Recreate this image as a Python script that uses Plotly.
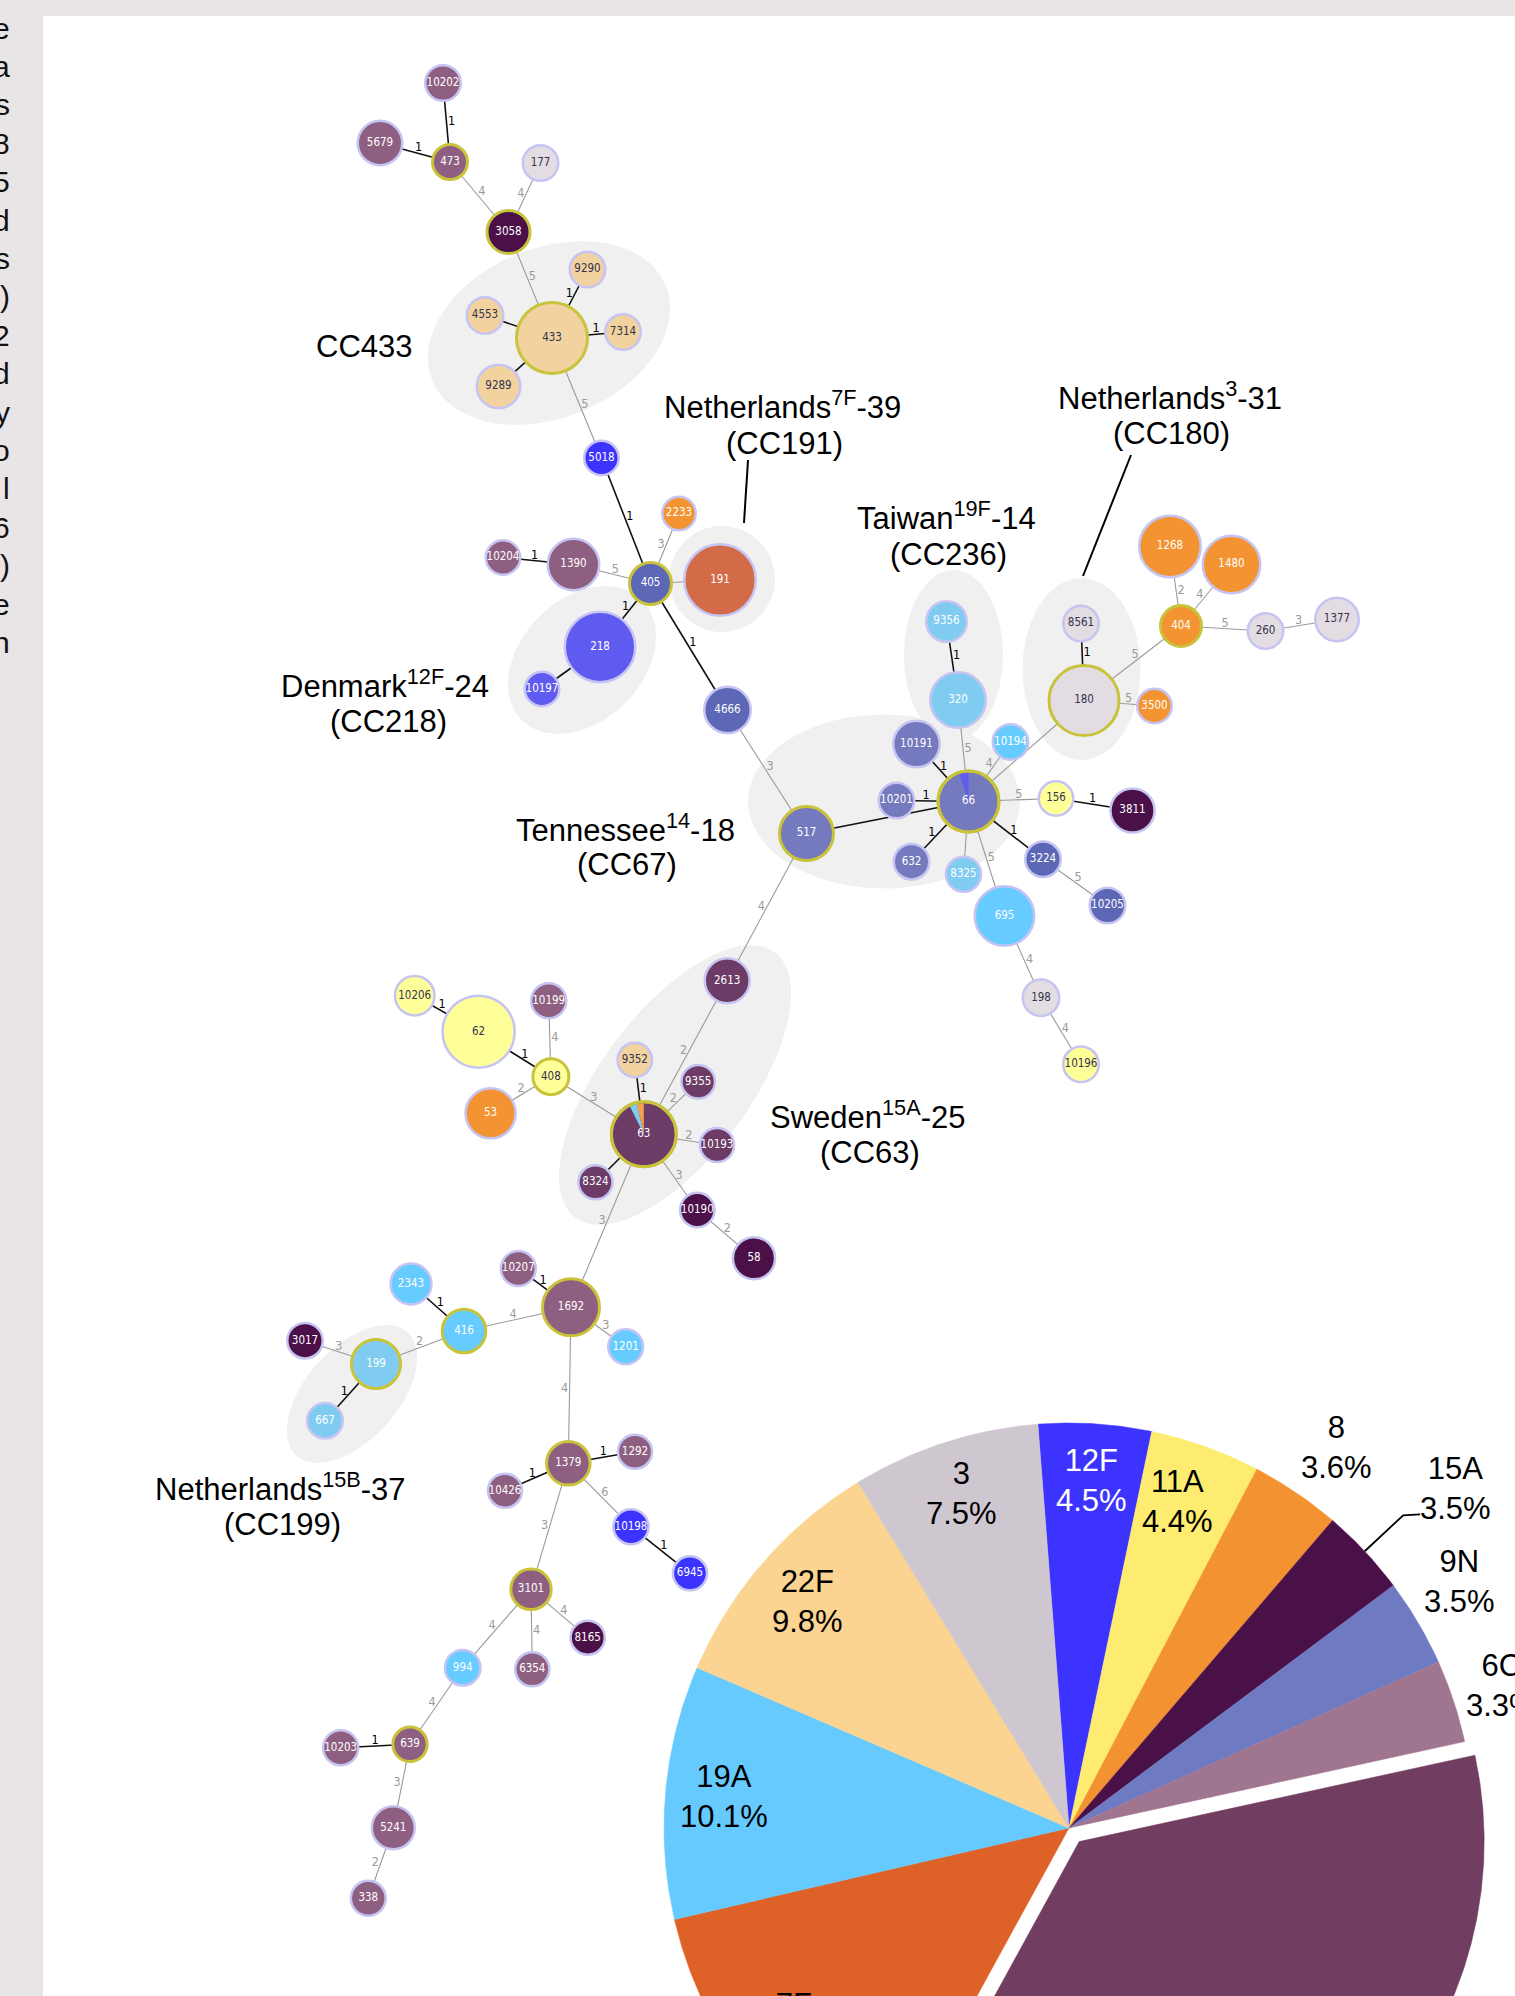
import numpy as np
import plotly.graph_objects as go

W, H = 1515, 1996

# ---------------- network: sequence types (nodes) ----------------
st_ids = ["10202", "5679", "473", "177", "3058", "9290", "4553", "433", "7314", "9289",
          "5018", "2233", "10204", "1390", "405", "191", "218", "10197", "4666", "517",
          "9356", "320", "8561", "180", "1268", "1480", "404", "260", "1377", "3500",
          "10191", "10194", "66", "10201", "156", "3811", "632", "8325", "3224", "10205",
          "695", "198", "10196",
          "2613", "10206", "62", "10199", "9352", "408", "9355", "53", "63", "10193", "8324",
          "10190", "58",
          "10207", "2343", "1692", "416", "3017", "199", "1201", "667",
          "1379", "1292", "10426", "10198", "6945", "3101", "8165", "994", "6354",
          "639", "10203", "5241", "338"]
st_x = [443, 380, 450, 540.5, 508.5, 587.5, 485, 552, 623, 498.5,
        601.5, 679, 503, 573.5, 650.5, 720, 600, 542, 727.5, 806.5,
        946.5, 958, 1081, 1084, 1170, 1231.5, 1181, 1265.5, 1337, 1154.5,
        916.5, 1010.5, 968.5, 896.5, 1056, 1132.5, 911.5, 963.5, 1043, 1107.5,
        1004.5, 1041, 1081,
        727.2, 414.7, 478.6, 548.7, 634.8, 550.9, 698.2, 490.6, 643.8, 717, 595.5,
        697.3, 754,
        518.3, 411, 571, 464, 305, 376, 625.7, 325,
        568.3, 635, 505, 631, 690, 531, 587.7, 462.7, 532.3,
        410, 340.7, 393.3, 368.3]
st_y = [83, 143, 162, 163, 232, 269.5, 315.5, 338, 332, 386.5,
        458, 513.5, 557.5, 564.5, 583.5, 580, 647, 689, 710, 833.5,
        621.5, 700, 623.5, 700.5, 546.5, 564.5, 626, 631, 619.5, 706,
        744, 742, 801.5, 800.5, 798.5, 810.5, 861.7, 874.3, 859.3, 905.5,
        916, 997.8, 1064.3,
        980.7, 995.7, 1031.7, 1000.7, 1060, 1076.7, 1081.7, 1113.3, 1134.3, 1145, 1182.3,
        1210, 1258.3,
        1268.5, 1284, 1307.3, 1331, 1340.7, 1364, 1346.7, 1420.7,
        1463.3, 1451.7, 1490.7, 1526.7, 1573.3, 1589.3, 1637.7, 1667.7, 1669.3,
        1744.3, 1747.7, 1827.7, 1898.3]
st_r = [19, 23.5, 19, 19, 23, 19, 19.5, 37, 19, 23,
        18.5, 18, 18.5, 27, 22.5, 37, 36.5, 18.5, 24.5, 28.5,
        21.5, 29, 19, 36.5, 32, 30, 22, 19, 23, 18.5,
        24.5, 19, 32, 19, 18.5, 23.3, 19, 18.8, 19, 19,
        31, 19.5, 19,
        23.7, 21, 37.3, 18.8, 18.5, 19.5, 18, 26.3, 34, 18.3, 18.3,
        18.5, 22.3,
        18.7, 21.7, 30, 23.3, 19, 26, 18.7, 19,
        23.3, 18.3, 18.3, 18.8, 18.3, 21.7, 18.3, 19, 18.3,
        18.7, 18.8, 22.7, 18.7]
st_col = ["mauve", "mauve", "mauve", "pale", "dark", "peach", "peach", "peach", "peach", "peach",
          "blue", "orange", "mauve", "mauve", "slate", "rust", "violet", "violet", "slate", "periw",
          "skyL", "skyL", "pale", "pale", "orange", "orange", "orange", "pale", "pale", "orange",
          "periw", "sky", "periw", "periw", "lemon", "dark", "periw", "skyL", "slate", "slate",
          "sky", "pale", "lemon",
          "plum", "lemon", "lemon", "mauve", "peach", "lemon", "plum", "orange", "plum", "plum", "plum",
          "dark", "dark",
          "mauve", "sky", "mauve", "sky", "dark", "skyL", "sky", "skyL",
          "mauve", "mauve", "mauve", "blue", "blue", "mauve", "dark", "sky", "mauve",
          "mauve", "mauve", "mauve", "mauve"]
founders = ["473", "3058", "433", "405", "517", "180", "404", "66", "408", "63",
            "1692", "416", "199", "1379", "3101", "639"]

# edges: (from, to, allelic distance, label visible)
edges = [("10202", "473", 1, True), ("5679", "473", 1, True), ("473", "3058", 4, True),
         ("177", "3058", 4, True), ("3058", "433", 5, True), ("433", "9290", 1, True),
         ("4553", "433", 1, False), ("433", "7314", 1, True), ("9289", "433", 1, False),
         ("433", "5018", 5, True), ("5018", "405", 1, True), ("405", "2233", 3, True),
         ("405", "191", 2, False), ("1390", "405", 5, True), ("10204", "1390", 1, True),
         ("405", "218", 1, True), ("10197", "218", 1, False), ("405", "4666", 1, True),
         ("4666", "517", 3, True), ("517", "66", 1, False), ("10201", "66", 1, True),
         ("10191", "66", 1, True), ("66", "320", 5, True), ("320", "9356", 1, True),
         ("66", "10194", 4, True), ("66", "180", 4, True), ("180", "8561", 1, True),
         ("180", "404", 5, True), ("180", "3500", 5, True), ("404", "1268", 2, True),
         ("404", "1480", 4, True), ("404", "260", 5, True), ("260", "1377", 3, True),
         ("66", "156", 5, True), ("156", "3811", 1, True), ("66", "3224", 1, True),
         ("3224", "10205", 5, True), ("66", "632", 1, True), ("66", "8325", 2, False),
         ("66", "695", 5, True), ("695", "198", 4, True), ("198", "10196", 4, True),
         ("517", "2613", 4, True), ("2613", "63", 2, True), ("63", "9352", 1, True),
         ("63", "9355", 2, True), ("63", "10193", 2, True), ("63", "8324", 1, False),
         ("63", "10190", 3, True), ("10190", "58", 2, True), ("63", "408", 3, True),
         ("408", "62", 1, True), ("62", "10206", 1, True), ("408", "10199", 4, True),
         ("408", "53", 2, True), ("63", "1692", 3, True), ("1692", "10207", 1, True),
         ("1692", "1201", 3, True), ("1692", "416", 4, True), ("416", "2343", 1, True),
         ("416", "199", 2, True), ("199", "3017", 3, True), ("199", "667", 1, True),
         ("1692", "1379", 4, True), ("1379", "1292", 1, True), ("1379", "10426", 1, True),
         ("1379", "10198", 6, True), ("10198", "6945", 1, True), ("1379", "3101", 3, True),
         ("3101", "8165", 4, True), ("3101", "6354", 4, True), ("3101", "994", 4, True),
         ("994", "639", 4, True), ("639", "10203", 1, True), ("639", "5241", 3, True),
         ("5241", "338", 2, True)]

# mixed-serotype nodes: (colour key, start deg, end deg) clockwise from 12 o'clock
node_wedges = {"66": [("violet", -19, 0)],
               "63": [("skyL", -27, -13), ("amber", -13, 0)]}

# clonal complex halos: cx, cy, semi-axis a, semi-axis b, tilt (deg)
halo_cx = [549, 722, 582, 953.5, 1081.5, 884, 675, 352]
halo_cy = [333, 579, 660, 655, 669, 801.5, 1085, 1394]
halo_a = [126, 53, 85, 49.5, 59, 136, 166, 83]
halo_b = [85, 53, 61, 85, 91, 87, 74, 46]
halo_t = [22, 0, 45, 0, 0, 0, 53, 48]

# clone labels
clone_text = ["CC433",
              "Netherlands<sup>7F</sup>-39", "(CC191)",
              "Taiwan<sup>19F</sup>-14", "(CC236)",
              "Netherlands<sup>3</sup>-31", "(CC180)",
              "Denmark<sup>12F</sup>-24", "(CC218)",
              "Tennessee<sup>14</sup>-18", "(CC67)",
              "Sweden<sup>15A</sup>-25", "(CC63)",
              "Netherlands<sup>15B</sup>-37", "(CC199)"]
clone_x = [364, 782, 784, 946, 948, 1170, 1171, 384.5, 388, 625, 626.5, 867, 869.5, 280, 282.5]
clone_y = [346, 405, 443, 516, 554, 396, 433, 684, 721, 828, 864.5, 1115, 1152, 1487, 1524]

# ---------------- pie: serotype distribution ----------------
pie_sero = ["12F", "11A", "8", "15A", "9N", "6C", "Other", "7F", "19A", "22F", "3"]
pie_pct = [4.5, 4.4, 3.6, 3.5, 3.5, 3.3, 36.4, 13.4, 10.1, 9.8, 7.5]
pie_colors = ["#3C34FE", "#FEEC70", "#F29230", "#4A1048", "#6E7AC2", "#A07590",
              "#713D60", "#DE6128", "#66CAFF", "#FAD490", "#CFC7D0"]
pie_label_r = [0.86, 0.85, 1.15, 1.27, 1.14, 1.125, None, 0.836, 0.855, 0.855, 0.867]
pie_label_dang = [0, -1.3, 1.0, 1.8, -1.7, 0, 0, 1.5, 0, 0, 0]
pie_text_col = ["white", "black", "black", "black", "black", "black", "black",
                "black", "black", "black", "black"]

# fragment of surrounding page text (left margin)
margin_chars = ["e", "a", "s", "8", "5", "d", "s", ")", "2", "d", "y", "o", "l", "6", ")", "e", "h"]

# ---------------- styles ----------------
palette = {"mauve": "#8E5F80", "dark": "#4B1048", "peach": "#F2D29E", "pale": "#E3DCE2",
           "blue": "#3D33FF", "orange": "#F39331", "slate": "#5C67B5", "rust": "#D46B48",
           "violet": "#5F5BF0", "periw": "#7579BD", "skyL": "#80CCF1", "sky": "#66CBFF",
           "lemon": "#FFFF9A", "plum": "#6C3C67", "amber": "#F2A24E"}
light_keys = {"peach", "pale", "lemon"}
NODE_FONT = "DejaVu Sans Condensed, Liberation Sans Narrow, sans-serif"
TEXT_FONT = "Liberation Sans, Arial, Helvetica, sans-serif"

pos = {s: (x, y, r) for s, x, y, r in zip(st_ids, st_x, st_y, st_r)}

fig = go.Figure()

# halos
tt = np.linspace(0, 2 * np.pi, 120)
for cx, cy, a, b, t in zip(halo_cx, halo_cy, halo_a, halo_b, halo_t):
    th = np.radians(t)
    ux, uy = a * np.cos(tt), b * np.sin(tt)
    X = cx + ux * np.cos(th) - uy * np.sin(th)
    Y = cy - (ux * np.sin(th) + uy * np.cos(th))
    fig.add_trace(go.Scatter(x=X, y=Y, mode="lines", fill="toself", fillcolor="#F0F0F0",
                             line=dict(width=0, color="#F0F0F0"), hoverinfo="skip"))

# leader lines for clone labels
fig.add_trace(go.Scatter(x=[748, 744, None, 1131, 1083], y=[460, 523, None, 455, 576],
                         mode="lines", line=dict(color="black", width=2), hoverinfo="skip"))

# edges
bx, by, gx, gy = [], [], [], []
lab_x, lab_y, lab_t, lab_c = [], [], [], []
for a, b, d, show in edges:
    xa, ya, ra = pos[a]
    xb, yb, rb = pos[b]
    if d == 1:
        bx += [xa, xb, None]; by += [ya, yb, None]
    else:
        gx += [xa, xb, None]; gy += [ya, yb, None]
    if show:
        dx, dy = xb - xa, yb - ya
        L = np.hypot(dx, dy)
        ux, uy = dx / L, dy / L
        sx, sy = xa + ux * ra, ya + uy * ra
        ex, ey = xb - ux * rb, yb - uy * rb
        mx, my = (sx + ex) / 2, (sy + ey) / 2
        if ux < 0 or (ux == 0 and uy < 0):
            ux, uy = -ux, -uy
        px, py = uy, -ux
        lab_x.append(mx + 5 * px); lab_y.append(my + 5 * py)
        lab_t.append(str(d)); lab_c.append("black" if d == 1 else "#9A9A9A")
fig.add_trace(go.Scatter(x=gx, y=gy, mode="lines", line=dict(color="#9A9A9A", width=1.1),
                         hoverinfo="skip"))
fig.add_trace(go.Scatter(x=bx, y=by, mode="lines", line=dict(color="#111111", width=1.6),
                         hoverinfo="skip"))
fig.add_trace(go.Scatter(x=lab_x, y=lab_y, mode="text", text=lab_t,
                         textfont=dict(family=NODE_FONT, size=12.5, color=lab_c), hoverinfo="skip"))

# nodes
lw = [3 if s in founders else 2.5 for s in st_ids]
fig.add_trace(go.Scatter(
    x=st_x, y=st_y, mode="markers",
    marker=dict(size=[2 * r - w for r, w in zip(st_r, lw)],
                color=[palette[c] for c in st_col],
                line=dict(color=["#C9C33C" if s in founders else "#C6C4F2" for s in st_ids],
                          width=lw), opacity=1),
    hoverinfo="skip"))

# wedges of mixed nodes
for nid, parts in node_wedges.items():
    x0, y0, r = pos[nid]
    rr = r - 3
    for key, a0, a1 in parts:
        ang = np.radians(np.linspace(a0, a1, 30))
        X = np.concatenate([[x0], x0 + rr * np.sin(ang), [x0]])
        Y = np.concatenate([[y0], y0 - rr * np.cos(ang), [y0]])
        fig.add_trace(go.Scatter(x=X, y=Y, mode="lines", fill="toself", fillcolor=palette[key],
                                 line=dict(width=0, color=palette[key]), hoverinfo="skip"))
    fig.add_trace(go.Scatter(x=[x0], y=[y0], mode="markers",
                             marker=dict(size=2 * r - 3, color="rgba(0,0,0,0)",
                                         line=dict(color="#C9C33C", width=3)),
                             hoverinfo="skip"))

# node labels
fig.add_trace(go.Scatter(
    x=st_x, y=st_y, mode="text", text=st_ids,
    textfont=dict(family=NODE_FONT, size=11.5,
                  color=["#33334D" if c in light_keys else "white" for c in st_col]),
    hoverinfo="skip"))

# pie chart (drawn as polygons from the percentages)
PCX, PCY, PR = 1069, 1828, 405
start = -4.4
PULL = 17
cum = start
annotations = []
for i, (s, p, col) in enumerate(zip(pie_sero, pie_pct, pie_colors)):
    a0 = cum
    a1 = cum + p * 3.6
    cum = a1
    mid = np.radians((a0 + a1) / 2)
    ox = oy = 0.0
    if s == "Other":
        ox, oy = PULL * np.sin(mid), -PULL * np.cos(mid)
    ang = np.radians(np.linspace(a0, a1, max(3, int((a1 - a0) * 3))))
    X = np.concatenate([[PCX + ox], PCX + ox + PR * np.sin(ang), [PCX + ox]])
    Y = np.concatenate([[PCY + oy], PCY + oy - PR * np.cos(ang), [PCY + oy]])
    fig.add_trace(go.Scatter(x=X, y=Y, mode="lines", fill="toself", fillcolor=col,
                             line=dict(width=0.5, color=col), hoverinfo="skip"))
    if pie_label_r[i] is not None:
        lr = pie_label_r[i] * PR
        la = mid + np.radians(pie_label_dang[i])
        lx = PCX + ox + lr * np.sin(la)
        ly = PCY + oy - lr * np.cos(la)
        yanchor = "middle"
        if ly > H - 20:           # label centre falls below the visible area
            ly, yanchor = ly - 40, "top"
        annotations.append(dict(x=lx, y=ly, xref="x", yref="y", yanchor=yanchor,
                                text=f"{s}<br>{p}%", showarrow=False,
                                font=dict(family=TEXT_FONT, size=31, color=pie_text_col[i])))
    if s == "15A":
        e1 = PR * 1.13
        xs = [PCX + PR * np.sin(mid), PCX + e1 * np.sin(mid), PCX + e1 * np.sin(mid) + 17]
        ys = [PCY - PR * np.cos(mid), PCY - e1 * np.cos(mid), PCY - e1 * np.cos(mid) - 1]
        fig.add_trace(go.Scatter(x=xs, y=ys, mode="lines", line=dict(color="black", width=1.8),
                                 hoverinfo="skip"))

for t, x, y in zip(clone_text, clone_x, clone_y):
    annotations.append(dict(x=x, y=y, xref="x", yref="y", text=t, showarrow=False,
                            font=dict(family=TEXT_FONT, size=31, color="black")))

for i, ch in enumerate(margin_chars):
    annotations.append(dict(x=12, y=28 + i * 38.4, xref="x", yref="y", text=ch, showarrow=False,
                            xanchor="right", font=dict(family=TEXT_FONT, size=30, color="#111111")))

fig.update_layout(
    width=W, height=H, margin=dict(l=0, r=0, t=0, b=0),
    paper_bgcolor="white", plot_bgcolor="white", showlegend=False, hovermode=False,
    dragmode=False,
    xaxis=dict(range=[0, W], visible=False, fixedrange=True),
    yaxis=dict(range=[H, 0], visible=False, fixedrange=True),
    annotations=annotations,
    shapes=[dict(type="rect", xref="paper", yref="paper", x0=0, x1=43 / W, y0=0, y1=1,
                 fillcolor="#E9E4E6", line=dict(width=0), layer="below"),
            dict(type="rect", xref="paper", yref="paper", x0=0, x1=1, y0=1 - 16 / H, y1=1,
                 fillcolor="#E9E4E6", line=dict(width=0), layer="below")],
)

fig.write_html("out.html", config={"displayModeBar": False},
               post_script="document.body.style.margin='0';document.body.style.overflow='hidden';")
